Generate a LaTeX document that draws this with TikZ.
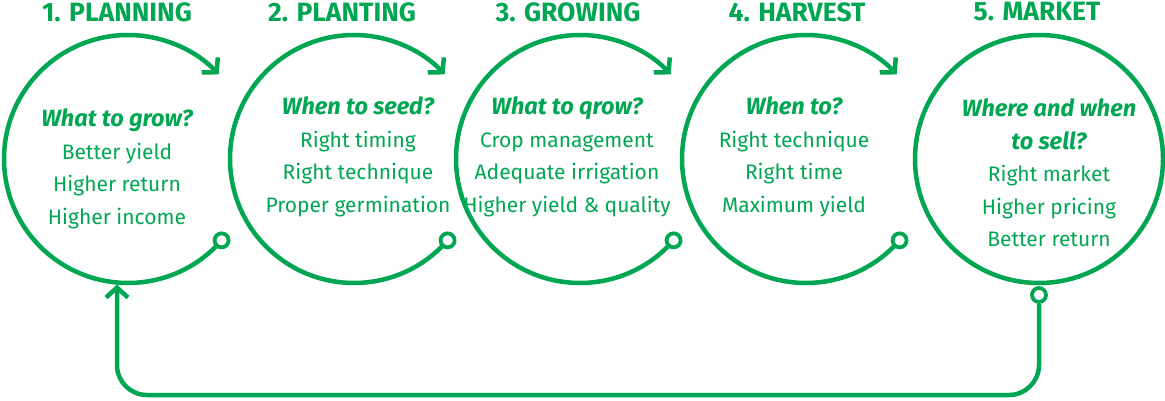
\documentclass[tikz,border=0pt]{standalone}
\usepackage{fontspec}
\setmainfont{Fira Sans}
\usetikzlibrary{arrows.meta,positioning}
\definecolor{leafgreen}{RGB}{0,166,81}

\begin{document}
\begin{tikzpicture}[x=1pt, y=1pt]
        \tikzstyle{stage}=[circle, minimum size=248pt, inner sep=0pt, outer sep=0pt]
        \tikzstyle{ring}=[draw=leafgreen, line width=4.5pt]
        \tikzstyle{flow}=[draw=leafgreen, line width=4.5pt, -{Straight Barb[length=10pt, width=22pt]}]
        \tikzstyle{dot}=[circle, draw=leafgreen, line width=3.8pt, fill=white, minimum size=14pt, inner sep=0pt]
        \tikzstyle{title}=[text=leafgreen, font=\bfseries\fontsize{26.5}{30}\selectfont]
        \tikzstyle{body}=[text=leafgreen, align=center, font=\fontsize{21}{32.5}\selectfont]

        \useasboundingbox (0,0) rectangle (1165,400);

        % Stage 1
        \node[stage] (plan) at (128,241) {};
        \draw[flow] (plan.-41) arc[start angle=-41, end angle=-317, radius=124pt];
        \node[dot] (plandot) at (plan.-41) {};
        \node[title] (plantitle) at (117,388) {1. PLANNING};
        \node[body] (plantext) at (117,231) {{\bfseries\itshape\fontsize{23.5}{32.5}\selectfont What to grow?}\\Better yield\\Higher return\\Higher income};

        % Stage 2
        \node[stage] (plant) at (354,241) {};
        \draw[flow] (plant.-41) arc[start angle=-41, end angle=-317, radius=124pt];
        \node[dot] (plantdot) at (plant.-41) {};
        \node[title] (planttitle) at (342,388) {2. PLANTING};
        \node[body] (planttext) at (358,243) {{\bfseries\itshape\fontsize{23.5}{32.5}\selectfont When to seed?}\\Right timing\\Right technique\\Proper germination};

        % Stage 3
        \node[stage] (grow) at (580,241) {};
        \draw[flow] (grow.-41) arc[start angle=-41, end angle=-317, radius=124pt];
        \node[dot] (growdot) at (grow.-41) {};
        \node[title] (growtitle) at (568,388) {3. GROWING};
        \node[body] (growtext) at (567,243) {{\bfseries\itshape\fontsize{23.5}{32.5}\selectfont What to qrow?}\\Crop management\\Adequate irrigation\\Higher yield \& quality};

        % Stage 4
        \node[stage] (harvest) at (806,241) {};
        \draw[flow] (harvest.-41) arc[start angle=-41, end angle=-317, radius=124pt];
        \node[dot] (harvestdot) at (harvest.-41) {};
        \node[title] (harvesttitle) at (797,388) {4. HARVEST};
        \node[body] (harvesttext) at (794,243) {{\bfseries\itshape\fontsize{23.5}{32.5}\selectfont When to?}\\Right technique\\Right time\\Maximum yield};

        % Stage 5
        \node[stage, ring] (market) at (1039,241) {};
        \node[dot] (marketdot) at ([yshift=-12pt]market.south) {};
        \node[title] (markettitle) at (1037,388) {5. MARKET};
        \node[body] (markettext) at (1049,227) {{\bfseries\itshape\fontsize{23.5}{32.5}\selectfont Where and when}\\{\bfseries\itshape\fontsize{23.5}{32.5}\selectfont to sell?}\\Right market\\Higher pricing\\Better return};

        % Terugkoppeling
        \coordinate (base) at (0,5);
        \coordinate (back) at ([xshift=-11pt, yshift=-1.5pt]plan.south);
        \draw[flow, rounded corners=30pt] (marketdot.south) -- (marketdot.south |- base) -- (back |- base) -- (back);
    \end{tikzpicture}
\end{document}
